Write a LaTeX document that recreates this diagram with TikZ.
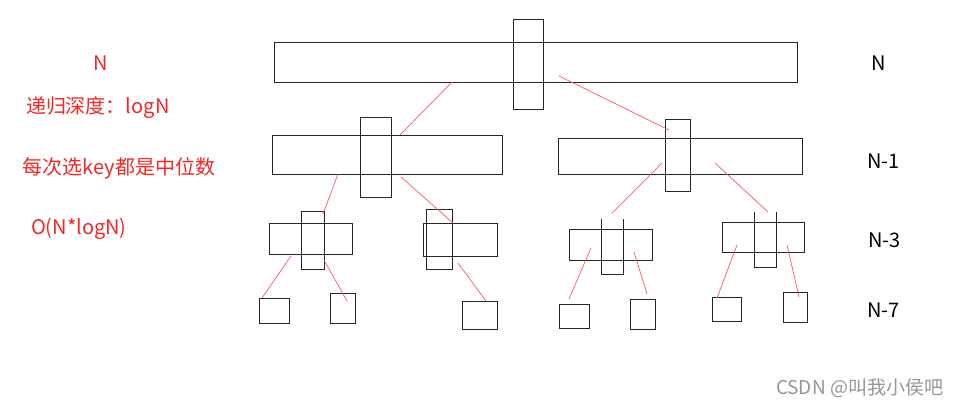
\documentclass[tikz,border=0pt]{standalone}
\usepackage{fontspec}
\setmainfont{Noto Sans CJK SC}
\usepackage{xcolor}
\usepackage{tikz}
\usetikzlibrary{positioning,calc}

\definecolor{noteRed}{RGB}{240,40,40}
\definecolor{splitRed}{RGB}{245,90,100}
\definecolor{markGray}{RGB}{150,150,150}

\begin{document}
\begin{tikzpicture}[
    x=1pt, y=-1pt,
    every node/.style={inner sep=0pt, outer sep=0pt},
    arr/.style={draw=black!85, line width=0.9pt, rectangle},
    keybox/.style={draw=black!85, line width=0.9pt, rectangle},
    openkey/.style={rectangle},
    leaf/.style={draw=black!85, line width=0.9pt, rectangle},
    split/.style={splitRed, line width=0.7pt},
    note/.style={font=\fontsize{20}{24}\selectfont, text=noteRed},
    depth/.style={font=\fontsize{20}{24}\selectfont, text=black, anchor=west},
]
\useasboundingbox (0,0) rectangle (959,406);

% ════ LEFT NOTES ═════════════════════════════════════════════
\node[note]              (nTop)   at (100.5,63) {N};
\node[note, anchor=west] (nDepth) at (26,108)   {递归深度：logN};
\node[note, anchor=west] (nKey)   at (23,168)   {每次选key都是中位数};
\node[note, anchor=west] (nCost)  at (31,229)   {O(N*logN)};

% ════ LEVEL 0 ════════════════════════════════════════════════
\node[arr, minimum width=523, minimum height=40] (root)    at (535.5,62) {};
\node[keybox, minimum width=30, minimum height=90] (rootKey) at (528,64) {};

% ════ LEVEL 1 ════════════════════════════════════════════════
\node[arr, minimum width=230, minimum height=39] (L)    at (387,154.5) {};
\node[keybox, minimum width=31, minimum height=80] (LKey) at (375.5,157) {};
\node[arr, minimum width=244, minimum height=36] (R)    at (680,156) {};
\node[keybox, minimum width=25, minimum height=72] (RKey) at (677.5,155) {};

% ════ LEVEL 2 ════════════════════════════════════════════════
\node[arr, minimum width=83, minimum height=31] (LL)    at (310.5,238.5) {};
\node[keybox, minimum width=23, minimum height=58] (LLKey) at (312.5,240) {};
\node[arr, minimum width=74, minimum height=33] (LR)    at (460,239.5) {};
\node[keybox, minimum width=26, minimum height=60] (LRKey) at (439,239) {};
\node[arr, minimum width=83, minimum height=31] (RL)    at (610.5,244.5) {};
\node[openkey, minimum width=22, minimum height=55] (RLKey) at (612,246.5) {};
\node[arr, minimum width=82, minimum height=30] (RR)    at (763,237) {};
\node[openkey, minimum width=22, minimum height=55] (RRKey) at (765,239.5) {};

% key boxes drawn without a top edge
\foreach \k in {RLKey,RRKey}{
    \draw[black!85, line width=0.9pt] (\k.north west) -- (\k.south west)
        -- (\k.south east) -- (\k.north east);
}

% ════ LEVEL 3 ════════════════════════════════════════════════
\node[leaf, minimum width=30, minimum height=25] (LLa) at (274,310.5) {};
\node[leaf, minimum width=25, minimum height=30] (LLb) at (342.5,308) {};
\node[leaf, minimum width=35, minimum height=28] (LRb) at (479.5,315) {};
\node[leaf, minimum width=30, minimum height=24] (RLa) at (574,316) {};
\node[leaf, minimum width=25, minimum height=30] (RLb) at (642.5,314) {};
\node[leaf, minimum width=29, minimum height=24] (RRa) at (726.5,309) {};
\node[leaf, minimum width=24, minimum height=30] (RRb) at (795,307) {};

% ── split lines ──────────────────────────────────────────────
\coordinate (s1a) at (452,82);   \coordinate (s1b) at (400,135);
\coordinate (s2a) at (559,76);   \coordinate (s2b) at (669,130);
\coordinate (s3a) at (338,174);  \coordinate (s3b) at (323,214);
\coordinate (s4a) at (401,177);  \coordinate (s4b) at (453,223);
\coordinate (s5a) at (662,163);  \coordinate (s5b) at (612,213);
\coordinate (s6a) at (715,163);  \coordinate (s6b) at (768,212);
\coordinate (s7a) at (291,256);  \coordinate (s7b) at (262,298);
\coordinate (s8a) at (324,260);  \coordinate (s8b) at (347,301);
\coordinate (s9a) at (458,263);  \coordinate (s9b) at (486,301);
\coordinate (s10a) at (591,248); \coordinate (s10b) at (569,299);
\coordinate (s11a) at (634,252); \coordinate (s11b) at (647,294);
\coordinate (s12a) at (737,245); \coordinate (s12b) at (717,298);
\coordinate (s13a) at (787,245); \coordinate (s13b) at (799,297);

\foreach \s in {1,...,13}{
    \draw[split] (s\s a) -- (s\s b);
}

% ════ DEPTH LABELS ═══════════════════════════════════════════
\node[depth, anchor=center] (d0) at (878.5,63) {N};
\node[depth] (d1) at (867,161.5) {N-1};
\node[depth] (d2) at (868,240)   {N-3};
\node[depth] (d3) at (867,310)   {N-7};

% watermark
\node[font=\fontsize{19}{22}\selectfont, text=markGray, anchor=east] (mark)
    at (943,388) {CSDN @叫我小侯吧};

\end{tikzpicture}
\end{document}
